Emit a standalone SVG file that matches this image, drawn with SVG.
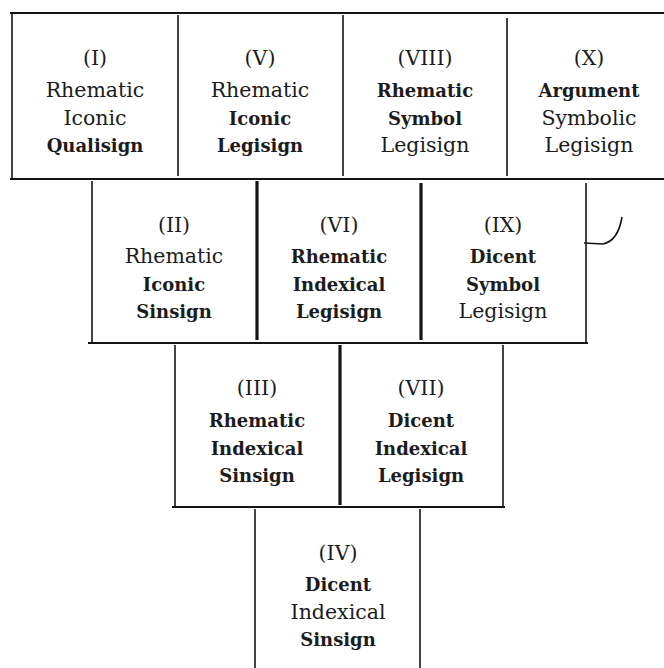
<svg xmlns="http://www.w3.org/2000/svg" width="664" height="668" viewBox="0 0 664 668">
<style>
text{font-family:"DejaVu Serif","Liberation Serif",serif;font-size:20.5px;fill:#1c1c1c;text-anchor:middle}
.b{font-weight:bold;font-size:18px}
.ln{stroke:#141414;stroke-width:1.6;fill:none}
.h{stroke-width:2}
.tk{stroke-width:3.2}
</style>
<rect width="664" height="668" fill="#ffffff"/>
<g id="lines">
<line class="ln h" x1="10" y1="13" x2="664" y2="13"/>
<line class="ln h" x1="10" y1="179" x2="664" y2="179"/>
<line class="ln h" x1="88" y1="343" x2="588" y2="343"/>
<line class="ln h" x1="172" y1="507" x2="505" y2="507"/>
<line class="ln" x1="12" y1="13" x2="12" y2="179"/>
<line class="ln" x1="178" y1="15" x2="178" y2="176"/>
<line class="ln" x1="343" y1="15" x2="343" y2="176"/>
<line class="ln" x1="507" y1="18" x2="507" y2="176"/>
<line class="ln" x1="92" y1="181" x2="92" y2="343"/>
<line class="ln tk" x1="257" y1="181" x2="257" y2="340"/>
<line class="ln tk" x1="421" y1="183" x2="421" y2="340"/>
<line class="ln" x1="586" y1="183" x2="586" y2="343"/>
<line class="ln" x1="175" y1="345" x2="175" y2="507"/>
<line class="ln tk" x1="340" y1="345" x2="340" y2="505"/>
<line class="ln" x1="503" y1="345" x2="503" y2="507"/>
<line class="ln" x1="255" y1="509" x2="255" y2="668"/>
<line class="ln" x1="420" y1="509" x2="420" y2="668"/>
<path class="ln" stroke-width="1.2" d="M584 243 L603 244 Q618 241 622 217"/>
</g>
<g id="n1"><text x="95" y="65">(I)</text><text x="95" y="97">Rhematic</text><text x="95" y="125">Iconic</text><text x="95" y="152" class="b">Qualisign</text></g>
<g id="n5"><text x="260" y="65">(V)</text><text x="260" y="97">Rhematic</text><text x="260" y="125" class="b">Iconic</text><text x="260" y="152" class="b">Legisign</text></g>
<g id="n8"><text x="425" y="65">(VIII)</text><text x="425" y="97" class="b">Rhematic</text><text x="425" y="125" class="b">Symbol</text><text x="425" y="152">Legisign</text></g>
<g id="n10"><text x="589" y="65">(X)</text><text x="589" y="97" class="b">Argument</text><text x="589" y="125">Symbolic</text><text x="589" y="152">Legisign</text></g>
<g id="n2"><text x="174" y="232">(II)</text><text x="174" y="263">Rhematic</text><text x="174" y="291" class="b">Iconic</text><text x="174" y="318" class="b">Sinsign</text></g>
<g id="n6"><text x="339" y="232">(VI)</text><text x="339" y="263" class="b">Rhematic</text><text x="339" y="291" class="b">Indexical</text><text x="339" y="318" class="b">Legisign</text></g>
<g id="n9"><text x="503" y="232">(IX)</text><text x="503" y="263" class="b">Dicent</text><text x="503" y="291" class="b">Symbol</text><text x="503" y="318">Legisign</text></g>
<g id="n3"><text x="257" y="395">(III)</text><text x="257" y="427" class="b">Rhematic</text><text x="257" y="455" class="b">Indexical</text><text x="257" y="482" class="b">Sinsign</text></g>
<g id="n7"><text x="421" y="395">(VII)</text><text x="421" y="427" class="b">Dicent</text><text x="421" y="455" class="b">Indexical</text><text x="421" y="482" class="b">Legisign</text></g>
<g id="n4"><text x="338" y="560">(IV)</text><text x="338" y="591" class="b">Dicent</text><text x="338" y="619">Indexical</text><text x="338" y="646" class="b">Sinsign</text></g>
</svg>
